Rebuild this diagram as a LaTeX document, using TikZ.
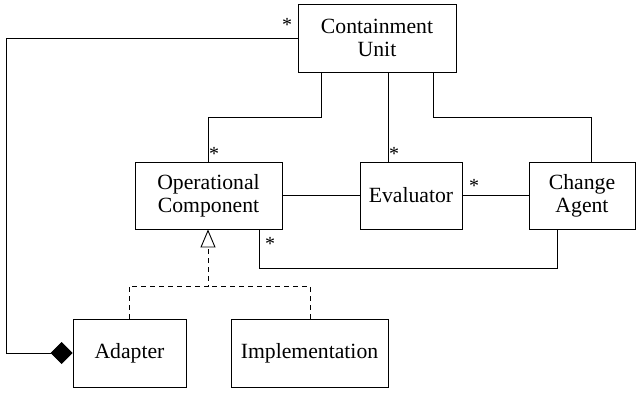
\documentclass[tikz,border=0pt]{standalone}
\usepackage{fontspec}
\setmainfont{Liberation Serif}
\usepackage{tikz}
\usetikzlibrary{arrows.meta}

\begin{document}
\begin{tikzpicture}[x=1pt, y=-1pt, line width=0.9pt,
    classbox/.style={draw, align=center, inner sep=0pt, minimum height=68pt,
      font=\fontsize{21.7}{23}\selectfont},
    mult/.style={font=\fontsize{20}{20}\selectfont, inner sep=0pt}]
  \useasboundingbox (0,0) rectangle (637,393);

  \node[classbox, minimum width=158pt] (cu) at (377,38) {Containment\\Unit};
  \node[classbox, minimum width=147pt, minimum height=67pt] (oc) at (208.5,195.5) {Operational\\Component};
  \node[classbox, minimum width=102pt, minimum height=67pt] (ev) at (411,195.5) {Evaluator};
  \node[classbox, minimum width=106pt, minimum height=67pt] (ca) at (582,195.5) {Change\\Agent};
  \node[classbox, minimum width=113pt] (ad) at (129.5,353) {Adapter};
  \node[classbox, minimum width=157pt] (im) at (309.5,353) {Implementation};

  % containment links
  \draw[-{Diamond[length=22pt, width=22pt]}] (cu.west) -- (6,38) -- (6,353) -- (ad.west);
  \draw (cu.south -| 321,0) |- (208,117) -- (oc.north -| 208,0);
  \draw (cu.south -| 388,0) -- (ev.north -| 388,0);
  \draw (cu.south -| 433,0) |- (591,117) -- (ca.north -| 591,0);

  % associations
  \draw (oc.east) -- (ev.west);
  \draw (ev.east) -- (ca.west);
  \draw (oc.south -| 259,0) |- (557,268) -- (ca.south -| 557,0);

  % realisation
  \draw[dashed, dash pattern=on 5pt off 4pt] (im.north -| 310,0) |- (208,286);
  \draw[dashed, dash pattern=on 5pt off 4pt, -{Triangle[open, length=18pt, width=15pt]}]
    (ad.north -| 129,0) |- (208,286) -- (oc.south -| 208,0);

  % multiplicities
  \node[mult] (m1) at (287,25) {*};
  \node[mult] (m2) at (214,154) {*};
  \node[mult] (m3) at (394,154) {*};
  \node[mult] (m4) at (474,186) {*};
  \node[mult] (m5) at (270,244) {*};
\end{tikzpicture}
\end{document}
